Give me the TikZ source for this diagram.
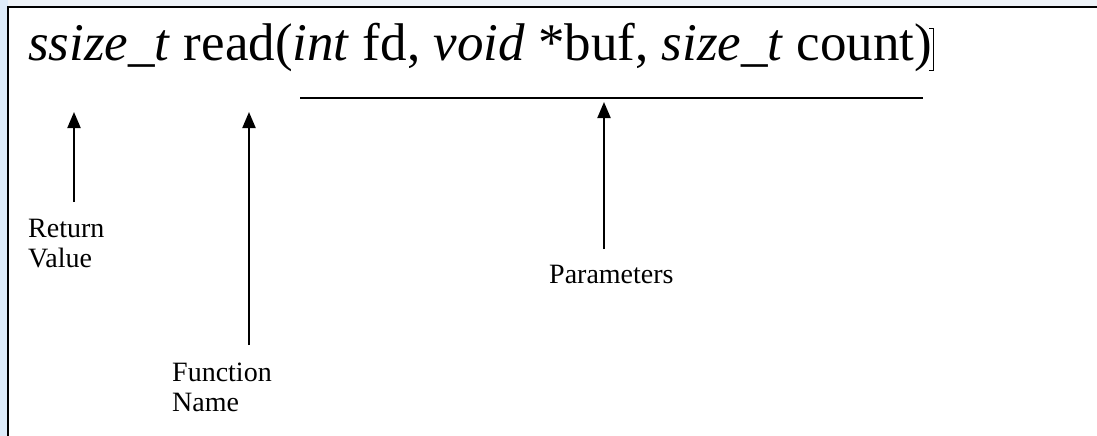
\documentclass[tikz,border=0pt]{standalone}
\usepackage{fontspec}
\setmainfont{Liberation Serif}
\usetikzlibrary{arrows.meta}
\definecolor{bgtop}{RGB}{238,243,248}
\definecolor{bgleft}{RGB}{222,236,250}
\begin{document}
\begin{tikzpicture}[x=1pt,y=-1pt,
  lbl/.style={font=\fontsize{28}{30}\selectfont, align=left, inner sep=0pt, anchor=base west},
  arr/.style={line width=2pt, -{Triangle[width=13pt,length=16pt]}}]
\useasboundingbox (0,0) rectangle (1097,436);
\fill[bgtop] (0,0) rectangle (1097,436);
\fill[bgleft] (0,0) rectangle (8,436);
\fill[white] (8,7) rectangle (1097,436);
\draw[line width=2.5pt] (8,437) -- (8,7) -- (1098,7);
\node[anchor=base west, inner sep=0pt, font=\fontsize{53}{60}\selectfont] (code) at (28,61)
  {\textit{ssize\_t} read(\textit{int} fd, \textit{void} *buf, \textit{size\_t} count)};
\draw[line width=0.6pt] (929,28) -- (933,28) -- (933,70) -- (929,70);
\coordinate (pl) at (300,98);
\coordinate (pr) at (923,98);
\draw[line width=2pt] (pl) -- (pr);
\node[lbl] (rv) at (28,267) {Return\\Value};
\node[lbl] (fn) at (172,411) {Function\\Name};
\node[lbl] (pa) at (549,283) {Parameters};
\coordinate (rvbot) at (74,202);
\coordinate (rvtip) at (74,112);
\coordinate (fnbot) at (249,345);
\coordinate (fntip) at (249,112);
\coordinate (pabot) at (604,249);
\coordinate (patip) at (604,102);
\draw[arr] (rvbot) -- (rvtip);
\draw[arr] (fnbot) -- (fntip);
\draw[arr] (pabot) -- (patip);
\end{tikzpicture}
\end{document}
